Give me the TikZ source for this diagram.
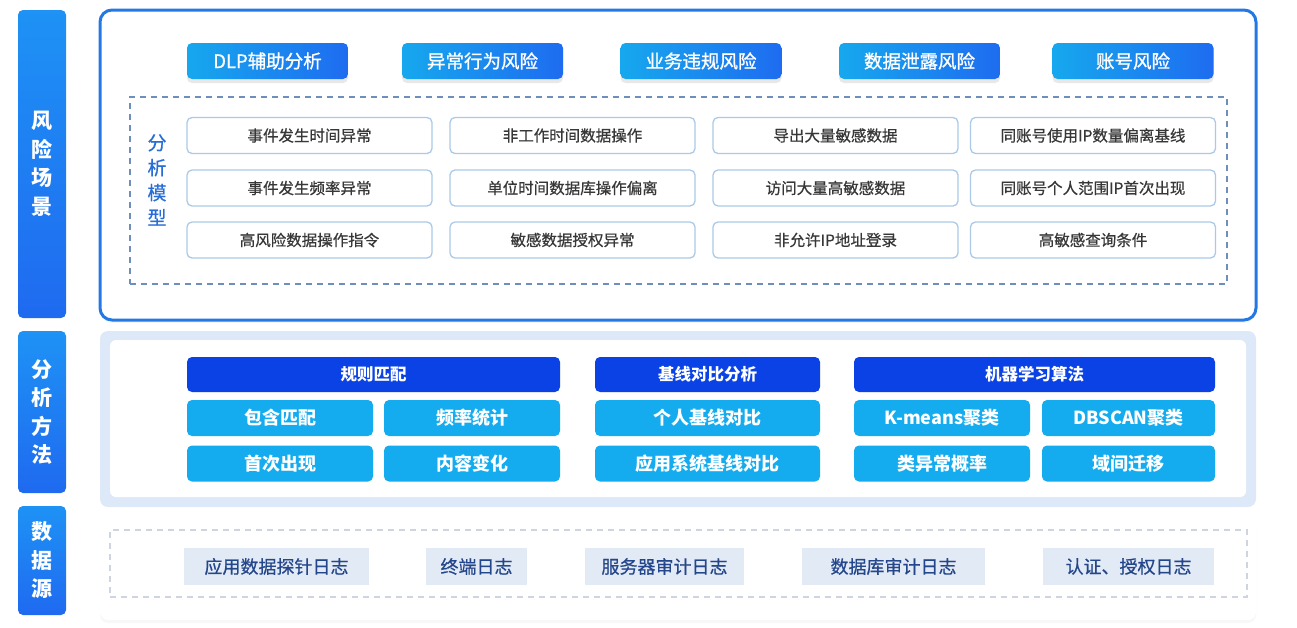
\documentclass[tikz,border=0pt]{standalone}
\usepackage{fontspec}
\setmainfont{Noto Sans CJK SC}
\newfontfamily\medfont{Noto Sans CJK SC}[BoldFont={*}, BoldFeatures={FakeBold=1.1}]
\newfontfamily\semifont{Noto Sans CJK SC}[BoldFont={*}, BoldFeatures={FakeBold=0.6}]
\usetikzlibrary{shadows}
\definecolor{tabtop}{RGB}{30,146,245}
\definecolor{tabbot}{RGB}{31,106,240}
\definecolor{frameblue}{RGB}{36,120,228}
\definecolor{btnleft}{RGB}{22,168,238}
\definecolor{btnright}{RGB}{30,108,240}
\definecolor{modelline}{RGB}{172,202,232}
\definecolor{modeltext}{RGB}{55,55,55}
\definecolor{dashblue}{RGB}{110,142,188}
\definecolor{titleblue}{RGB}{40,110,216}
\definecolor{bandblue}{RGB}{221,233,248}
\definecolor{hdrblue}{RGB}{10,66,230}
\definecolor{subcyan}{RGB}{20,172,238}
\definecolor{dashgray}{RGB}{206,213,224}
\definecolor{srcfill}{RGB}{226,234,246}
\definecolor{srctext}{RGB}{36,70,138}
\tikzset{
    sidetab/.style={rounded corners=5pt, top color=tabtop, bottom color=tabbot, draw=none, text=white, minimum width=48pt, inner sep=0pt, align=center, font=\bfseries\fontsize{21}{28.5}\selectfont},
    riskbtn/.style={rounded corners=5pt, left color=btnleft, right color=btnright, draw=none, text=white, minimum width=161pt, minimum height=36pt, inner sep=0pt, font=\medfont\bfseries\fontsize{18.5}{20}\selectfont, drop shadow={opacity=0.18, shadow xshift=0pt, shadow yshift=-4pt}},
    modelbox/.style={rounded corners=5pt, draw=modelline, line width=1.3pt, fill=white, text=modeltext, minimum width=245pt, minimum height=36pt, inner sep=0pt, font=\semifont\bfseries\fontsize{15.5}{17}\selectfont},
    methhdr/.style={rounded corners=5pt, fill=hdrblue, text=white, minimum height=35pt, inner sep=0pt, font=\bfseries\fontsize{16.5}{18}\selectfont},
    methsub/.style={rounded corners=5pt, fill=subcyan, text=white, minimum height=36pt, inner sep=0pt, font=\bfseries\fontsize{18}{20}\selectfont},
    srcbox/.style={fill=srcfill, text=srctext, minimum height=37pt, inner sep=0pt, font=\semifont\bfseries\fontsize{18}{20}\selectfont}
}

\begin{document}
\begin{tikzpicture}[x=1pt, y=-1pt]
    \useasboundingbox (0,0) rectangle (1297,627);
    % Layer tabs
    \node[sidetab, minimum height=308pt] (tabrisk) at (42,164) {风\\险\\场\\景};
    \node[sidetab, minimum height=162pt] (tabmeth) at (42,412) {分\\析\\方\\法};
    \node[sidetab, minimum height=109pt] (tabsrc) at (42,560.5) {数\\据\\源};

    % Risk scenarios
    \node[rounded corners=12pt, draw=frameblue, line width=3pt, fill=white, minimum width=1156pt, minimum height=310pt, drop shadow={opacity=0.08, shadow xshift=0pt, shadow yshift=-3pt}] (riskpanel) at (678,165) {};
    \node[draw=dashblue, dashed, dash pattern=on 6pt off 5pt, line width=1.3pt, minimum width=1097pt, minimum height=187pt] (modelarea) at (678.5,190.5) {};
    \node[riskbtn] (rdlp) at (267.5,61) {DLP辅助分析};
    \node[riskbtn] (rbehav) at (482.5,61) {异常行为风险};
    \node[riskbtn] (rbiz) at (701,61) {业务违规风险};
    \node[riskbtn] (rleak) at (919.5,61) {数据泄露风险};
    \node[riskbtn] (racct) at (1133,61) {账号风险};
    \node[text=titleblue, align=center, font=\semifont\bfseries\fontsize{19}{25}\selectfont] (modeltitle) at (157,180) {分\\析\\模\\型};
    \node[modelbox] (m11) at (309.5,135.5) {事件发生时间异常};
    \node[modelbox] (m12) at (572.5,135.5) {非工作时间数据操作};
    \node[modelbox] (m13) at (835.5,135.5) {导出大量敏感数据};
    \node[modelbox] (m14) at (1093,135.5) {同账号使用IP数量偏离基线};
    \node[modelbox] (m21) at (309.5,188) {事件发生频率异常};
    \node[modelbox] (m22) at (572.5,188) {单位时间数据库操作偏离};
    \node[modelbox] (m23) at (835.5,188) {访问大量高敏感数据};
    \node[modelbox] (m24) at (1093,188) {同账号个人范围IP首次出现};
    \node[modelbox] (m31) at (309.5,240) {高风险数据操作指令};
    \node[modelbox] (m32) at (572.5,240) {敏感数据授权异常};
    \node[modelbox] (m33) at (835.5,240) {非允许IP地址登录};
    \node[modelbox] (m34) at (1093,240) {高敏感查询条件};

    % Analysis methods
    \node[rounded corners=8pt, fill=bandblue, minimum width=1156pt, minimum height=176pt] (methband) at (678,419) {};
    \node[rounded corners=6pt, fill=white, minimum width=1136pt, minimum height=157pt] (methpanel) at (678,418.5) {};
    \node[methhdr, minimum width=373pt] (hrule) at (373.5,374.5) {规则匹配};
    \node[methhdr, minimum width=225pt] (hbase) at (707.5,374.5) {基线对比分析};
    \node[methhdr, minimum width=361pt] (hml) at (1034.5,374.5) {机器学习算法};
    \node[methsub, minimum width=186pt] (scontain) at (280,418) {包含匹配};
    \node[methsub, minimum width=176pt] (sfreq) at (472,418) {频率统计};
    \node[methsub, minimum width=186pt] (sfirst) at (280,463.5) {首次出现};
    \node[methsub, minimum width=176pt] (schange) at (472,463.5) {内容变化};
    \node[methsub, minimum width=225pt] (sperson) at (707.5,418) {个人基线对比};
    \node[methsub, minimum width=225pt] (sappsys) at (707.5,463.5) {应用系统基线对比};
    \node[methsub, minimum width=176pt] (skmeans) at (942,418) {K-means聚类};
    \node[methsub, minimum width=173pt] (sdbscan) at (1128.5,418) {DBSCAN聚类};
    \node[methsub, minimum width=176pt] (sprob) at (942,463.5) {类异常概率};
    \node[methsub, minimum width=173pt] (sdomain) at (1128.5,463.5) {域间迁移};

    % Data sources
    \node[rounded corners=8pt, fill=white, minimum width=1156pt, minimum height=102pt, drop shadow={opacity=0.06, shadow xshift=0pt, shadow yshift=-3pt}] (srcpanel) at (678,569) {};
    \node[draw=dashgray, dashed, dash pattern=on 6pt off 5pt, line width=1.2pt, minimum width=1137pt, minimum height=67pt] (srcarea) at (678.5,563.5) {};
    \node[srcbox, minimum width=185pt] (dprobe) at (276.5,566.5) {应用数据探针日志};
    \node[srcbox, minimum width=101pt] (dterm) at (476.5,566.5) {终端日志};
    \node[srcbox, minimum width=159pt] (dserver) at (664.5,566.5) {服务器审计日志};
    \node[srcbox, minimum width=183pt] (ddb) at (893.5,566.5) {数据库审计日志};
    \node[srcbox, minimum width=171pt] (dauth) at (1128.5,566.5) {认证、授权日志};
\end{tikzpicture}
\end{document}
